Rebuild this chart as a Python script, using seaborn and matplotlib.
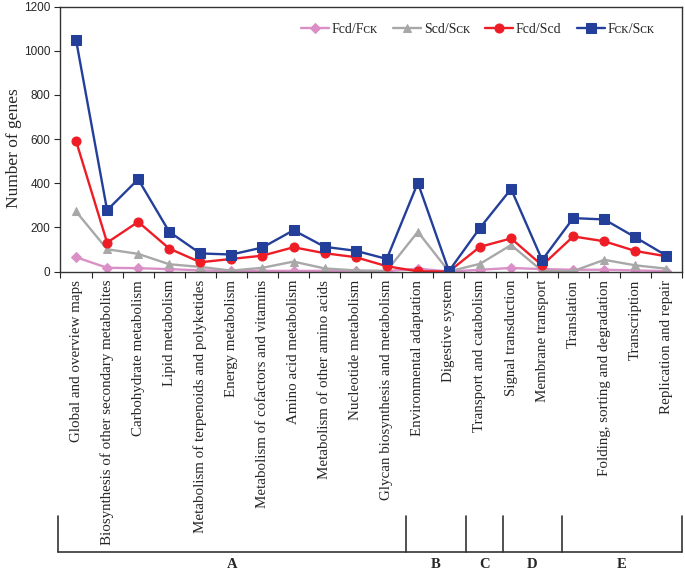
import matplotlib
matplotlib.use("Agg")
import matplotlib.pyplot as plt
import matplotlib.transforms as mtransforms
from matplotlib.lines import Line2D
import seaborn as sns
import pandas as pd
import numpy as np

categories = [
    "Global and overview maps",
    "Biosynthesis of other secondary metabolites",
    "Carbohydrate metabolism",
    "Lipid metabolism",
    "Metabolism of terpenoids and polyketides",
    "Energy metabolism",
    "Metabolism of cofactors and vitamins",
    "Amino acid metabolism",
    "Metabolism of other amino acids",
    "Nucleotide metabolism",
    "Glycan biosynthesis and metabolism",
    "Environmental adaptation",
    "Digestive system",
    "Transport and catabolism",
    "Signal transduction",
    "Membrane transport",
    "Translation",
    "Folding, sorting and degradation",
    "Transcription",
    "Replication and repair",
]

fcd_fck = [65, 17, 15, 11, 5, 3, 3, 3, 3, 2, 2, 13, 0, 8, 16, 11, 8, 8, 5, 2]
scd_sck = [272, 101, 80, 33, 21, 4, 17, 45, 14, 5, 3, 180, 0, 35, 120, 3, 2, 53, 28, 13]
fcd_scd = [592, 131, 225, 104, 42, 57, 72, 110, 83, 65, 24, 1, 0, 112, 150, 28, 159, 137, 93, 69]
fck_sck = [1050, 278, 418, 180, 82, 77, 109, 187, 112, 94, 57, 402, 2, 198, 374, 52, 242, 236, 155, 72]

series_names = ["Fcd/Fᴄᴋ", "Scd/Sᴄᴋ", "Fcd/Scd", "Fᴄᴋ/Sᴄᴋ"]
series_values = [fcd_fck, scd_sck, fcd_scd, fck_sck]

group_labels = ["A", "B", "C", "D", "E"]
group_bounds = [-0.58, 10.62, 12.55, 13.74, 15.64, 19.5]

colors = ["#DA8FC6", "#A8A8A8", "#EE1C25", "#243F9A"]
markers = ["D", "^", "o", "s"]
msizes = [5, 6, 6.5, 6.5]

sns.set_style("ticks")
serif = ["Liberation Serif", "DejaVu Serif"]
plt.rcParams["font.family"] = serif

fig = plt.figure(figsize=(6.85, 5.72), dpi=100)
ax = fig.add_axes([0.0883, 0.5253, 0.9956 - 0.0883, 0.9883 - 0.5253])

x = np.arange(len(categories))
rows = []
for name, vals in zip(series_names, series_values):
    for xi, v in zip(x, vals):
        rows.append({"x": xi, "y": v, "series": name})
df = pd.DataFrame(rows)

for name, col, mk, ms in zip(series_names, colors, markers, msizes):
    sub = df[df["series"] == name]
    sns.lineplot(data=sub, x="x", y="y", ax=ax, color=col, marker=mk,
                 markersize=ms, markeredgecolor=col, linewidth=1.7,
                 label=name, legend=True)

ax.set_xlim(-0.5, len(categories) - 0.5)
ax.set_ylim(0, 1200)
ax.set_yticks(np.arange(0, 1201, 200))
ax.set_yticklabels([str(v) for v in range(0, 1201, 200)],
                   family=["Liberation Sans", "DejaVu Sans"], fontsize=8.5)
ax.set_xticks(x)
ax.set_xticklabels(categories, rotation=90, fontsize=10.8, family=serif)
ax.set_xticks(np.arange(-0.5, len(categories), 1.0), minor=True)
ax.tick_params(axis="x", which="major", length=0, pad=6)
ax.tick_params(axis="x", which="minor", length=4, width=0.8, direction="out")
ax.tick_params(axis="y", length=4, width=0.8, direction="out")
ax.set_xlabel("")
ax.set_ylabel("")
for sp in ax.spines.values():
    sp.set_visible(True)
    sp.set_linewidth(1.0)
    sp.set_color("#333333")

fig.text(14 / 685, 1 - 148 / 572, "Number of genes", rotation=90,
         ha="center", va="center", fontsize=12.5, family=serif)

leg = ax.legend(loc="upper right", ncol=4, frameon=False, fontsize=10,
                handlelength=2.0, handletextpad=0.2, columnspacing=1.1,
                bbox_to_anchor=(0.972, 0.975), borderaxespad=0.3)
for t in leg.get_texts():
    t.set_family(serif)

# group brackets below the axis
trans = mtransforms.blended_transform_factory(ax.transData, fig.transFigure)
y_top, y_bot, y_lab = 1 - 516 / 572, 1 - 551.7 / 572, 1 - 565 / 572
fig.add_artist(Line2D([group_bounds[0], group_bounds[-1]], [y_bot, y_bot],
                      transform=trans, color="#333333", lw=1.2))
for b in group_bounds:
    fig.add_artist(Line2D([b, b], [y_bot, y_top], transform=trans,
                          color="#333333", lw=1.2))
for lab, lo, hi in zip(group_labels, group_bounds[:-1], group_bounds[1:]):
    fig.text((lo + hi) / 2, y_lab, lab, transform=trans, ha="center",
             va="center", fontsize=10.5, fontweight="bold", family=serif)

fig.savefig("out.png", dpi=100)
